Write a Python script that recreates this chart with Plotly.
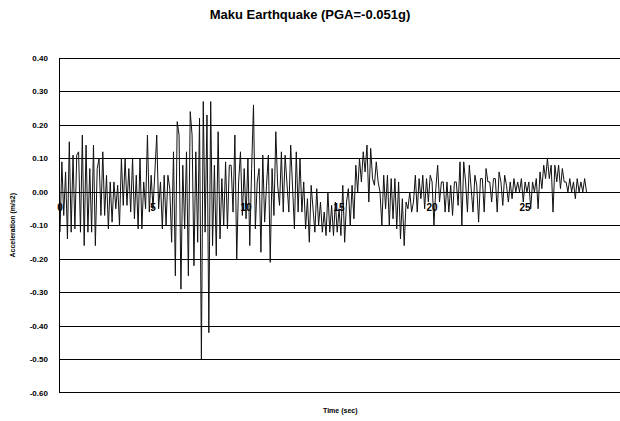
import plotly.graph_objects as go

title_text = "Maku Earthquake (PGA=-0.051g)"
x_title = "Time (sec)"
y_title = "Acceleration (m/s2)"

dt = 0.1  # sampling interval (s)
accel = [
    -0.12, 0.09, -0.07, 0.06, -0.14, 0.15, -0.12, 0.11, -0.11, 0.11,
    0.12, -0.12, 0.17, -0.16, 0.14, -0.12, 0.07, -0.12, 0.14, -0.16,
    0.07, 0.10, -0.07, 0.12, -0.07, 0.05, -0.11, 0.03, -0.09, 0.03,
    -0.05, 0.02, -0.10, 0.10, -0.04, 0.10, -0.04, 0.07, -0.06, 0.10,
    -0.08, 0.05, -0.11, 0.10, -0.11, 0.03, -0.05, 0.17, -0.06, 0.05,
    -0.05, 0.08, 0.17, -0.05, 0.03, -0.11, 0.05, -0.10, 0.05, 0.01,
    -0.15, 0.12, -0.25, 0.21, 0.17, -0.29, 0.08, -0.11, 0.12, -0.25,
    0.24, 0.17, -0.22, 0.12, -0.15, 0.22, -0.50, 0.27, -0.12, 0.23,
    -0.42, 0.27, -0.16, 0.08, -0.19, 0.18, -0.14, 0.04, -0.10, 0.09,
    -0.11, 0.08, 0.08, -0.06, 0.17, -0.20, 0.03, 0.12, -0.07, 0.07,
    -0.08, 0.10, -0.16, 0.07, 0.26, -0.11, 0.03, 0.07, -0.18, 0.11,
    -0.09, 0.02, 0.11, -0.21, 0.07, -0.07, 0.18, 0.02, -0.04, 0.12,
    -0.06, 0.11, 0.02, -0.06, 0.14, 0.03, -0.11, 0.12, -0.06, 0.10,
    -0.06, 0.03, -0.11, -0.02, -0.15, 0.02, -0.06, -0.12, 0.01, -0.10,
    -0.03, -0.12, -0.06, -0.13, 0.00, -0.12, -0.04, -0.13, -0.03, -0.12,
    -0.05, -0.13, 0.02, -0.15, -0.03, 0.01, -0.10, 0.02, -0.08, 0.08,
    0.00, 0.10, 0.03, 0.12, 0.06, 0.14, -0.03, 0.13, 0.04, 0.02,
    0.09, 0.03, 0.00, -0.10, 0.05, -0.05, 0.05, -0.10, 0.04, -0.08,
    0.04, -0.11, 0.03, -0.14, -0.02, -0.16, -0.03, -0.05, 0.00, -0.06,
    -0.03, 0.05, -0.06, 0.04, -0.02, 0.05, -0.05, 0.04, -0.03, 0.05,
    0.03, -0.10, 0.01, 0.08, -0.03, 0.03, 0.03, -0.06, 0.03, -0.06,
    0.02, -0.07, 0.03, 0.03, -0.04, 0.09, -0.10, 0.09, 0.03, -0.06,
    0.08, 0.02, -0.06, 0.05, 0.02, -0.09, 0.04, 0.04, -0.06, 0.07,
    0.03, 0.03, -0.03, 0.04, 0.04, -0.06, 0.06, 0.03, -0.04, 0.05,
    0.02, -0.03, 0.03, -0.02, 0.04, 0.00, 0.03, 0.00, 0.04, -0.03,
    0.03, 0.00, 0.03, -0.05, 0.03, 0.00, 0.04, -0.05, 0.06, 0.01,
    0.08, 0.04, 0.10, 0.04, 0.08, -0.06, 0.08, 0.03, 0.08, 0.01,
    0.07, 0.03, 0.03, 0.00, 0.04, 0.00, 0.03, -0.02, 0.04, 0.00,
    0.03, 0.00, 0.04, 0.00,
]
time = [round(i * dt, 2) for i in range(len(accel))]

x_ticks = [0, 5, 10, 15, 20, 25, 30]
x_labels = ["0", "5", "10", "15", "20", "25", "30"]
y_ticks = [0.4, 0.3, 0.2, 0.1, 0.0, -0.1, -0.2, -0.3, -0.4, -0.5, -0.6]
y_labels = ["0.40", "0.30", "0.20", "0.10", "0.00", "-0.10", "-0.20",
            "-0.30", "-0.40", "-0.50", "-0.60"]

FONT = "Liberation Sans, Arial, sans-serif"

fig = go.Figure()
fig.add_trace(go.Scatter(
    x=time, y=accel, mode="lines",
    line=dict(color="#111111", width=1),
    showlegend=False, hoverinfo="skip",
))

fig.update_layout(
    width=620, height=421, autosize=False,
    margin=dict(l=60, r=0, t=58, b=28),
    paper_bgcolor="white", plot_bgcolor="white",
    font=dict(family=FONT, color="black"),
    title=dict(text="<b>" + title_text + "</b>", x=0.5, xref="container",
               xanchor="center", y=1 - 14 / 421, yref="container",
               yanchor="middle", font=dict(size=13, family=FONT, color="black")),
    xaxis=dict(range=[0, 30.1], tickvals=x_ticks, ticktext=x_labels,
               showgrid=False, zeroline=False, showline=False,
               anchor="free", position=0.6, ticks="",
               ticklabelstandoff=8,
               tickfont=dict(size=10, family=FONT, color="black", weight="bold")),
    yaxis=dict(range=[-0.6, 0.4], tickvals=y_ticks, ticktext=y_labels,
               showgrid=True, gridcolor="black", gridwidth=1,
               zeroline=False, showline=True, linecolor="black", linewidth=1.5,
               ticks="", ticklabelstandoff=9,
               tickfont=dict(size=8, family=FONT, color="black", weight="bold")),
    shapes=[
        dict(type="line", xref="paper", x0=0, x1=1, yref="y", y0=0.4, y1=0.4,
             line=dict(color="black", width=2)),
        dict(type="line", xref="paper", x0=0, x1=1, yref="y", y0=-0.6, y1=-0.6,
             line=dict(color="black", width=2)),
    ],
    annotations=[
        dict(text="<b>" + y_title + "</b>", xref="paper", yref="paper",
             x=0, y=0.5, xshift=-48, textangle=-90, showarrow=False,
             xanchor="center", yanchor="middle",
             font=dict(size=7, family=FONT, color="black")),
        dict(text="<b>" + x_title + "</b>", xref="paper", yref="paper",
             x=0.5, y=0, yshift=-18, showarrow=False,
             xanchor="center", yanchor="middle",
             font=dict(size=7, family=FONT, color="black")),
    ],
)

post = ("document.documentElement.style.overflow='hidden';"
        "document.body.style.margin='0';document.body.style.padding='0';"
        "document.body.style.overflow='hidden';"
        "Plotly.relayout(document.getElementById('{plot_id}'), {width:620, height:421});")
fig.write_html("out.html", post_script=post,
               config={"displayModeBar": False, "staticPlot": True})
